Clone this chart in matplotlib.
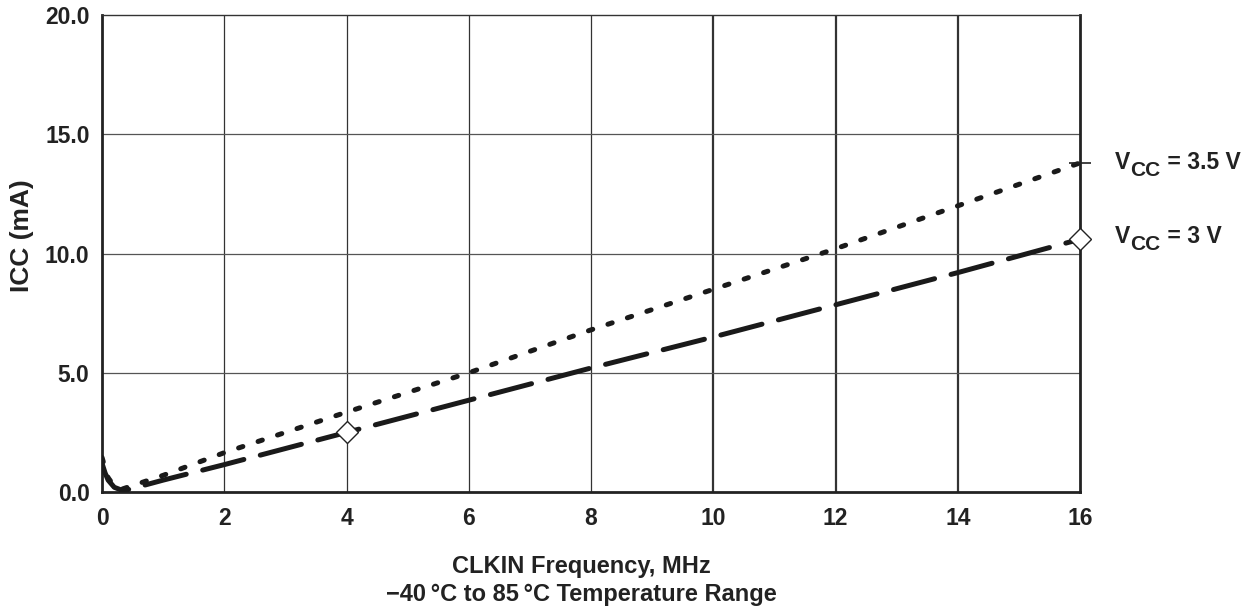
import numpy as np
import matplotlib.pyplot as plt

plt.rcParams['font.family'] = ['Liberation Sans', 'DejaVu Sans']
plt.rcParams['font.weight'] = 'bold'
plt.rcParams['mathtext.default'] = 'regular'

# data
f35 = [0, 0.05, 0.1, 0.2, 0.3, 1, 2, 4, 6, 8, 10, 12, 14, 16]
i35 = [1.45, 1.0, 0.6, 0.25, 0.1, 0.7, 1.65, 3.35, 5.0, 6.8, 8.5, 10.2, 12.0, 13.8]
f30 = [0, 0.05, 0.1, 0.2, 0.35, 1, 2, 4, 6, 8, 10, 12, 14, 16]
i30 = [1.2, 0.8, 0.5, 0.2, 0.05, 0.5, 1.15, 2.5, 3.85, 5.2, 6.5, 7.85, 9.2, 10.6]
mark_f30 = [4, 16]
mark_i30 = [2.5, 10.6]
xticks = [0, 2, 4, 6, 8, 10, 12, 14, 16]
yticks = [0, 5, 10, 15, 20]
curve_labels = [('3.5 V', 13.8), ('3 V', 10.7)]

ink = '#222222'

fig = plt.figure(figsize=(12.55, 6.12), dpi=100)
ax = fig.add_axes([0.0813, 0.196, 0.7793, 0.7795])

# grid
for xv in xticks[1:-1]:
    lw = 1.6 if xv >= 10 else 0.9
    ax.axvline(xv, color='#333333', lw=lw, zorder=1)
for yv in yticks[1:-1]:
    ax.axhline(yv, color='#555555', lw=0.9, zorder=1)

l1, = ax.plot(f35, i35, color='#1a1a1a', lw=3.6, solid_capstyle='round',
              dash_capstyle='round', zorder=3)
l1.set_dashes([0.9, 3.2])
l2, = ax.plot(f30, i30, color='#1a1a1a', lw=3.6, dash_capstyle='round', zorder=3)
l2.set_dashes([8.5, 3.4])

ax.plot(mark_f30, mark_i30, linestyle='none', marker='D', markersize=11,
        markerfacecolor='white', markeredgecolor=ink, markeredgewidth=1.0,
        zorder=4, clip_on=False)
ax.plot([f35[-1]], [i35[-1]], linestyle='none', marker='_', markersize=16,
        color=ink, markeredgewidth=1.2, zorder=4, clip_on=False)

ax.set_xlim(0, 16)
ax.set_ylim(0, 20)
ax.set_xticks(xticks)
ax.set_yticks(yticks)
ax.set_xticklabels([str(v) for v in xticks], fontsize=16.5, fontweight='bold')
ax.set_yticklabels(['%.1f' % v for v in yticks], fontsize=16.5, fontweight='bold')
ax.tick_params(length=0, colors=ink)
ax.tick_params(axis='x', pad=11)
ax.tick_params(axis='y', pad=9)

for s in ['left', 'bottom', 'right']:
    ax.spines[s].set_linewidth(2.0)
    ax.spines[s].set_color(ink)
ax.spines['top'].set_linewidth(1.0)
ax.spines['top'].set_color('#333333')

fig.text(22 / 1255, 1 - 236 / 612, 'ICC (mA)', rotation=90, ha='center',
         va='center', fontsize=19, fontweight='bold', color=ink)
fig.text(0.463, 0.064, 'CLKIN Frequency, MHz', ha='center', fontsize=17,
         fontweight='bold', color=ink)
fig.text(0.463, 0.018,
         '\u221240\u2009\u00b0C to 85\u2009\u00b0C Temperature Range',
         ha='center', fontsize=17, fontweight='bold', color=ink)

# V_CC labels: subscript is same size, just dropped below the baseline
for txt, yv in curve_labels:
    t1 = ax.text(1.036, yv, 'V', transform=ax.get_yaxis_transform(),
                 fontsize=16.5, fontweight='bold', va='center', color=ink)
    t2 = ax.annotate('CC', xy=(1, 0), xycoords=t1, xytext=(0, -4),
                     textcoords='offset points', va='bottom', ha='left',
                     fontsize=15, fontweight='bold', color=ink)
    ax.annotate(' = ' + txt, xy=(1, 0), xycoords=t2, xytext=(0, 4),
                textcoords='offset points', va='bottom', ha='left',
                fontsize=16.5, fontweight='bold', color=ink)

fig.savefig('out.png', dpi=100)
